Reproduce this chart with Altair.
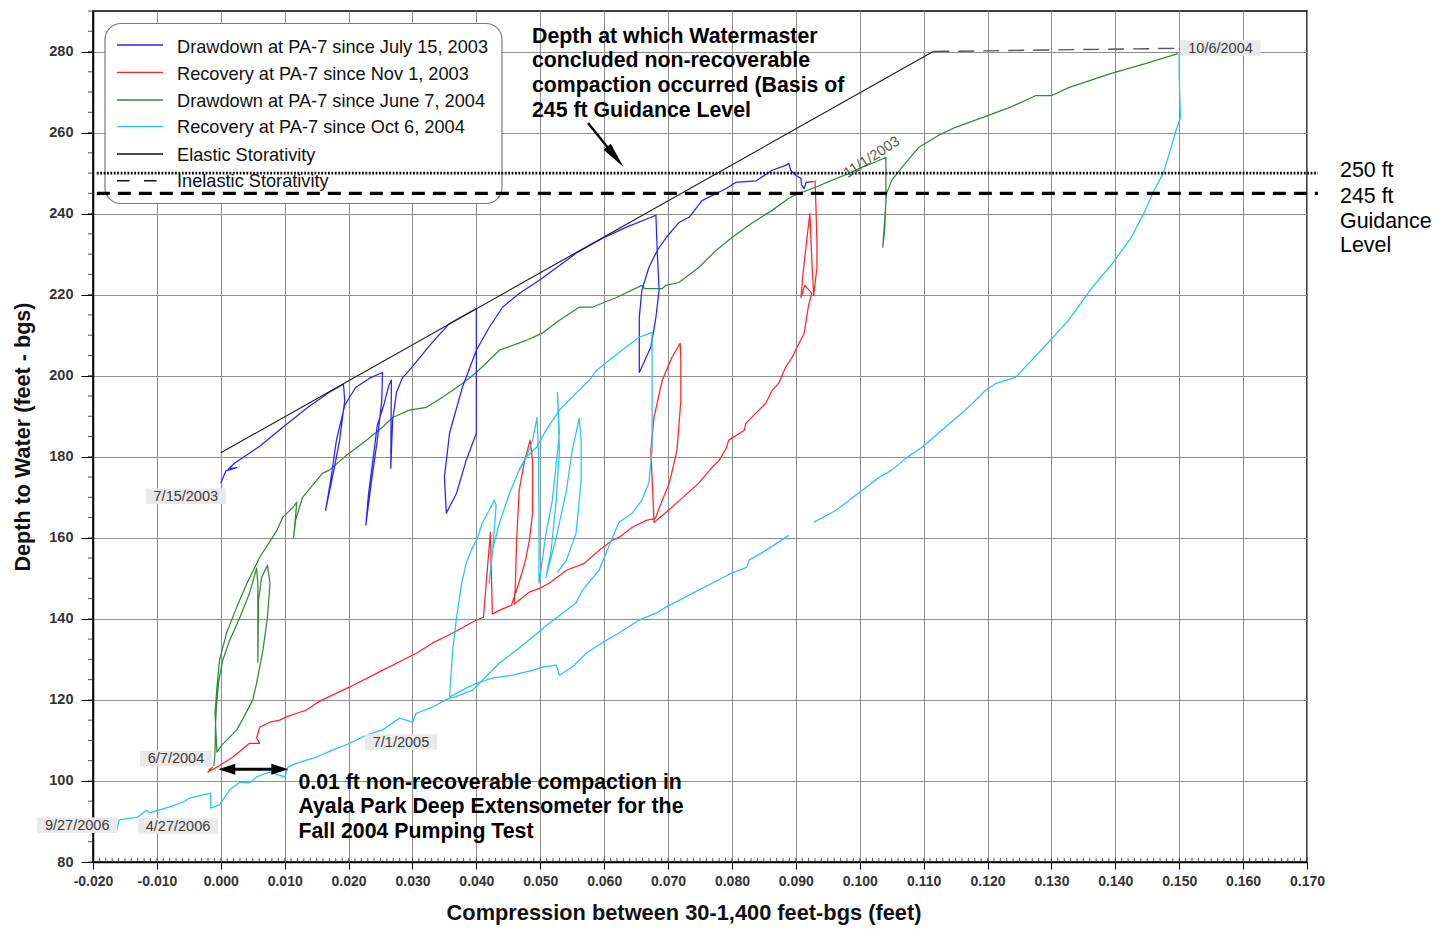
import altair as alt
import pandas as pd

# ---------------------------------------------------------------------------
# Traced records: compression between 30-1,400 ft-bgs (ft) vs depth to water
# ---------------------------------------------------------------------------
SERIES = [
    "Drawdown at PA-7 since July 15, 2003",
    "Recovery at PA-7 since Nov 1, 2003",
    "Drawdown at PA-7 since June 7, 2004",
    "Recovery at PA-7 since Oct 6, 2004",
]
COLORS = ["#2424ff", "#ff2424", "#2f8a35", "#26c3ef"]

BLUE_X = [0.0000, 0.0008, 0.0025, 0.0012, 0.0023, 0.0061, 0.0097, 0.0139, 0.0170, 0.0192,
          0.0194, 0.0186, 0.0177, 0.0164, 0.0172, 0.0181, 0.0194, 0.0211, 0.0233, 0.0253,
          0.0252, 0.0245, 0.0236, 0.0227, 0.0231, 0.0238, 0.0245, 0.0255, 0.0263, 0.0267,
          0.0266, 0.0269, 0.0275, 0.0284, 0.0295, 0.0327, 0.0358, 0.0400, 0.0400, 0.0400,
          0.0384, 0.0369, 0.0353, 0.0350, 0.0358, 0.0378, 0.0400, 0.0420, 0.0441, 0.0467,
          0.0498, 0.0556, 0.0597, 0.0634, 0.0681, 0.0683, 0.0686, 0.0681, 0.0673, 0.0655,
          0.0655, 0.0659, 0.0670, 0.0683, 0.0697, 0.0717, 0.0733, 0.0753, 0.0791, 0.0806,
          0.0838, 0.0863, 0.0884, 0.0889, 0.0892, 0.0900, 0.0908, 0.0909, 0.0913, 0.0916, 0.0928]
BLUE_Y = [173.5, 176.5, 177.3, 177.0, 178.6, 182.6, 187.3, 192.5, 195.9, 197.9,
          193.9, 184.1, 176.7, 166.8, 174.2, 184.1, 192.7, 197.1, 199.4, 200.8,
          193.9, 184.1, 174.2, 163.1, 170.5, 179.1, 187.8, 192.7, 197.6, 198.9,
          177.2, 189.0, 195.9, 199.4, 201.3, 207.5, 212.9, 216.6, 201.3, 185.8,
          179.1, 171.0, 166.1, 174.9, 185.8, 197.1, 206.3, 211.9, 216.9, 220.3,
          223.5, 230.2, 233.9, 236.6, 239.6, 230.9, 221.1, 214.4, 207.0, 200.8,
          214.4, 221.1, 226.7, 230.9, 234.1, 237.8, 239.1, 243.2, 246.2, 247.7,
          248.1, 250.7, 251.9, 252.4, 250.7, 249.4, 248.7, 247.0, 246.2, 247.7, 247.9]

RED_X = [0.0930, 0.0931, 0.0933, 0.0933, 0.0928, 0.0925, 0.0922, 0.0917, 0.0911, 0.0908,
         0.0914, 0.0925, 0.0920, 0.0913, 0.0894, 0.0884, 0.0873, 0.0863, 0.0853, 0.0842,
         0.0822, 0.0819, 0.0795, 0.0791, 0.0780, 0.0769, 0.0748, 0.0722, 0.0697, 0.0678,
         0.0677, 0.0673, 0.0678, 0.0691, 0.0706, 0.0719, 0.0720, 0.0720, 0.0714, 0.0702,
         0.0689, 0.0680, 0.0666, 0.0644, 0.0623, 0.0613, 0.0592, 0.0569, 0.0541, 0.0514,
         0.0500, 0.0483, 0.0459, 0.0461, 0.0463, 0.0467, 0.0475, 0.0484, 0.0488, 0.0488,
         0.0483, 0.0477, 0.0467, 0.0455, 0.0436, 0.0425, 0.0422, 0.0411, 0.0400, 0.0363,
         0.0331, 0.0306, 0.0253, 0.0202, 0.0159, 0.0150, 0.0134, 0.0119, 0.0103, 0.0092,
         0.0077, 0.0061, 0.0056, 0.0061, 0.0045, 0.0019, -0.0006, -0.0020, -0.0013, -0.0019]
RED_Y = [248.2, 244.0, 233.4, 226.7, 219.8, 228.5, 240.0, 233.4, 224.8, 219.3,
         222.3, 220.3, 217.4, 210.5, 204.5, 202.1, 198.1, 196.4, 193.2, 191.5,
         188.3, 186.5, 184.1, 182.1, 179.1, 177.4, 173.5, 169.8, 166.3, 163.8,
         168.0, 181.6, 189.7, 198.9, 204.5, 208.0, 203.8, 193.9, 181.6, 173.5,
         168.5, 164.8, 164.3, 162.6, 160.1, 159.4, 156.9, 153.7, 152.0, 148.8,
         147.6, 146.6, 143.6, 148.3, 159.4, 171.7, 178.6, 184.1, 179.1, 166.1,
         159.4, 154.5, 149.1, 143.4, 142.1, 141.2, 161.4, 140.4, 139.7, 136.5,
         134.0, 131.5, 127.3, 123.2, 120.0, 119.2, 117.5, 116.7, 115.8, 115.0,
         114.5, 113.3, 110.6, 109.3, 109.3, 105.9, 103.4, 102.2, 103.4, 102.7]

GREEN_X = [-0.0011, -0.0009, -0.0008, -0.0006, -0.0003, 0.0003, 0.0014, 0.0030, 0.0045, 0.0056,
           0.0058, 0.0058, 0.0059, 0.0064, 0.0073, 0.0077, 0.0073, 0.0066, 0.0056, 0.0050,
           0.0038, 0.0025, 0.0002, -0.0006, -0.0009, -0.0006, -0.0002, 0.0009, 0.0025, 0.0041,
           0.0061, 0.0088, 0.0097, 0.0113, 0.0119, 0.0114, 0.0117, 0.0128, 0.0159, 0.0170,
           0.0197, 0.0228, 0.0253, 0.0269, 0.0295, 0.0322, 0.0347, 0.0378, 0.0400, 0.0436,
           0.0478, 0.0503, 0.0530, 0.0561, 0.0581, 0.0619, 0.0659, 0.0663, 0.0691, 0.0697,
           0.0717, 0.0748, 0.0775, 0.0800, 0.0831, 0.0863, 0.0889, 0.0905, 0.0931, 0.0956,
           0.0983, 0.1003, 0.1030, 0.1041, 0.1041, 0.1039, 0.1036, 0.1039, 0.1042, 0.1050,
           0.1066, 0.1092, 0.1123, 0.1150, 0.1197, 0.1238, 0.1275, 0.1300, 0.1327, 0.1369,
           0.1394, 0.1447, 0.1498]
GREEN_Y = [103.7, 106.9, 115.0, 120.0, 124.9, 129.8, 134.7, 140.4, 146.3, 152.5,
           148.8, 129.3, 144.6, 150.3, 153.2, 148.8, 140.4, 132.3, 124.1, 120.0,
           116.3, 112.6, 108.9, 107.1, 116.7, 123.2, 129.8, 136.5, 142.9, 148.8,
           155.2, 161.9, 165.1, 167.5, 168.8, 160.1, 164.3, 170.0, 175.9, 176.7,
           180.4, 184.1, 187.3, 189.7, 191.5, 192.2, 194.7, 198.1, 200.8, 206.3,
           208.7, 210.5, 213.7, 216.9, 216.9, 219.3, 222.3, 221.5, 221.5, 222.3,
           223.0, 226.7, 230.9, 234.1, 237.6, 240.8, 243.8, 245.0, 246.5, 248.2,
           249.9, 251.4, 253.1, 253.9, 243.3, 235.9, 231.7, 238.3, 245.0, 248.2,
           251.4, 256.3, 259.3, 261.3, 264.0, 266.4, 269.1, 269.1, 271.1, 273.3,
           274.6, 277.0, 279.5]

# Oct 2004 recovery: upper curve (record gap near 0.091 ft)
CYAN_A_X = [0.1500, 0.1500, 0.1502, 0.1495, 0.1486, 0.1475, 0.1459, 0.1447, 0.1425, 0.1397,
            0.1363, 0.1327, 0.1295, 0.1269, 0.1244, 0.1213, 0.1197, 0.1170, 0.1134, 0.1097,
            0.1072, 0.1050, 0.1030, 0.0998, 0.0963, 0.0928]
CYAN_A_Y = [279.5, 273.6, 263.7, 260.5, 255.6, 250.0, 245.2, 240.8, 234.1, 228.0,
            221.6, 213.7, 208.2, 203.8, 199.6, 198.1, 196.4, 192.2, 187.3, 182.3,
            179.6, 176.7, 174.9, 171.0, 166.8, 163.8]
# lower limb and the 2005 pumping cycles
CYAN_B_X = [0.0889, 0.0853, 0.0827, 0.0823, 0.0800, 0.0769, 0.0738, 0.0697, 0.0681, 0.0655,
            0.0623, 0.0603, 0.0572, 0.0550, 0.0530, 0.0525, 0.0503, 0.0488, 0.0456, 0.0425,
            0.0400, 0.0384, 0.0358,
            0.0363, 0.0369, 0.0377, 0.0384, 0.0392, 0.0402, 0.0409, 0.0420, 0.0428,
            0.0431, 0.0427, 0.0423, 0.0420,
            0.0425, 0.0436, 0.0452, 0.0467, 0.0478, 0.0488, 0.0495,
            0.0497, 0.0498, 0.0498,
            0.0509, 0.0519, 0.0530, 0.0527,
            0.0530, 0.0525, 0.0517, 0.0509,
            0.0525, 0.0541, 0.0550, 0.0561,
            0.0564, 0.0564, 0.0556, 0.0541, 0.0527]
CYAN_B_Y = [160.6, 156.9, 154.5, 152.7, 151.3, 148.8, 146.3, 142.9, 141.4, 139.7,
            136.5, 134.7, 131.5, 128.1, 126.1, 128.6, 128.1, 127.3, 126.1, 125.4,
            124.1, 122.9, 120.7,
            132.3, 140.4, 148.8, 153.7, 156.9, 160.1, 163.6, 166.8, 169.3,
            168.0, 160.1, 152.7, 148.8,
            156.9, 163.6, 171.0, 176.7, 179.9, 184.1, 189.7,
            181.6, 164.3, 148.8,
            161.1, 169.3, 185.8, 195.9,
            181.6, 169.3, 156.9, 150.3,
            160.1, 171.7, 181.6, 189.5,
            184.1, 174.2, 161.1, 154.5, 151.5]
# rise to 0.068 ft, recovery, and the 2005-2006 limb
CYAN_C_X = [0.0467, 0.0478, 0.0494, 0.0509, 0.0530, 0.0556, 0.0577, 0.0588, 0.0608, 0.0634,
            0.0655, 0.0675,
            0.0675, 0.0675, 0.0670, 0.0659, 0.0644, 0.0623, 0.0613, 0.0592, 0.0566, 0.0556,
            0.0514, 0.0488, 0.0463, 0.0436, 0.0394, 0.0366, 0.0358,
            0.0331, 0.0306, 0.0300, 0.0280, 0.0253, 0.0228, 0.0202, 0.0175, 0.0150, 0.0119,
            0.0105, 0.0100, 0.0077, 0.0056, 0.0045, 0.0030, 0.0014, -0.0002, -0.0016, -0.0016,
            -0.0048, -0.0059, -0.0080, -0.0111, -0.0116, -0.0130, -0.0159, -0.0163, -0.0166]
CYAN_C_Y = [176.7, 179.9, 182.3, 186.5, 191.5, 195.7, 198.9, 201.3, 203.8, 207.0,
            209.5, 210.7,
            198.1, 181.6, 173.5, 169.3, 166.1, 163.8, 160.1, 152.0, 147.1, 143.9,
            138.9, 135.5, 132.3, 129.1, 122.4, 120.7, 120.5,
            118.2, 116.7, 114.5, 115.5, 112.6, 111.3, 109.3, 107.6, 105.9, 104.4,
            103.4, 101.0, 102.2, 101.0, 99.5, 99.7, 97.8, 94.1, 93.3, 97.0,
            95.8, 94.8, 93.6, 92.1, 92.8, 91.1, 90.4, 87.9, 89.6]

ELASTIC_X = [0.0000, 0.1115]
ELASTIC_Y = [181.0, 280.0]
INELASTIC_X = [0.1115, 0.1500]
INELASTIC_Y = [280.0, 280.8]

GUIDE_250 = 250
GUIDE_245 = 245

X_TICKS = [-0.020, -0.010, 0.000, 0.010, 0.020, 0.030, 0.040, 0.050, 0.060, 0.070,
           0.080, 0.090, 0.100, 0.110, 0.120, 0.130, 0.140, 0.150, 0.160, 0.170]
Y_TICKS = [80, 100, 120, 140, 160, 180, 200, 220, 240, 260, 280]
X_MINOR = [round(-0.020 + 0.001 * k, 3) for k in range(191)]
Y_MINOR = list(range(80, 291, 5))

# ---------------------------------------------------------------------------
W, H = 1214, 851
FONT = "Liberation Sans"
xs = alt.Scale(domain=[-0.02, 0.17], nice=False, zero=False)
ys = alt.Scale(domain=[80, 290], nice=False, zero=False)

rows = []


def add(series, seg, xv, yv):
    if len(xv) != len(yv):
        raise ValueError(f"{seg}: {len(xv)} x values vs {len(yv)} y values")
    rows.extend({"series": series, "seg": seg, "i": i, "x": a, "y": b}
                for i, (a, b) in enumerate(zip(xv, yv)))


add(SERIES[2], "green", GREEN_X, GREEN_Y)
add(SERIES[0], "blue", BLUE_X, BLUE_Y)
add(SERIES[1], "red", RED_X, RED_Y)
add(SERIES[3], "cyan_a", CYAN_A_X, CYAN_A_Y)
add(SERIES[3], "cyan_b", CYAN_B_X, CYAN_B_Y)
add(SERIES[3], "cyan_c", CYAN_C_X, CYAN_C_Y)

x_axis = alt.Axis(
    values=X_TICKS,
    labelExpr="datum.value < 0 ? '-' + format(-datum.value, '.3f') : format(datum.value, '.3f')",
    grid=True, gridColor="#8e8e8e", gridWidth=1,
    domainColor="black", domainWidth=1.5, tickColor="black", tickSize=7, tickWidth=1,
    labelFont=FONT, labelFontSize=14, labelFontWeight="bold", labelColor="#333",
    labelPadding=5, labelFlush=False, labelOverlap=False,
    title="Compression between 30-1,400 feet-bgs (feet)", titleFont=FONT,
    titleFontSize=21.8, titleFontWeight="bold", titleColor="#111", titlePadding=14,
    titleX=590.5,
)
y_axis = alt.Axis(
    values=Y_TICKS, format="d",
    grid=True, gridColor="#8e8e8e", gridWidth=1,
    domainColor="black", domainWidth=1.5, tickColor="black", tickSize=12, tickWidth=1,
    labelFont=FONT, labelFontSize=14.5, labelFontWeight="bold", labelColor="#333",
    labelPadding=8, labelOverlap=False,
    title="Depth to Water (feet - bgs)", titleFont=FONT, titleFontSize=21.6,
    titleFontWeight="bold", titleColor="#111", titlePadding=14,
)

lines = alt.Chart(pd.DataFrame(rows)).mark_line(strokeWidth=1.25, strokeJoin="round").encode(
    x=alt.X("x:Q", scale=xs, axis=x_axis),
    y=alt.Y("y:Q", scale=ys, axis=y_axis),
    color=alt.Color("series:N", scale=alt.Scale(domain=SERIES, range=COLORS), legend=None),
    detail="seg:N",
    order="i:Q",
)


def xy(df, mark):
    return alt.Chart(df).mark_line(**mark).encode(
        x=alt.X("x:Q", scale=xs), y=alt.Y("y:Q", scale=ys))


elastic = xy(pd.DataFrame({"x": ELASTIC_X, "y": ELASTIC_Y}), dict(color="#1a1a1a", strokeWidth=1.1))
inelastic = xy(pd.DataFrame({"x": INELASTIC_X, "y": INELASTIC_Y}),
               dict(color="#555", strokeWidth=1.4, strokeDash=[16, 9]))

x_minor = alt.Chart(pd.DataFrame({"x": X_MINOR})).mark_rule(color="#222", strokeWidth=0.8).encode(
    x=alt.X("x:Q", scale=xs), y=alt.value(H - 4), y2=alt.value(H))
y_minor = alt.Chart(pd.DataFrame({"y": Y_MINOR})).mark_rule(color="#222", strokeWidth=0.8).encode(
    y=alt.Y("y:Q", scale=ys), x=alt.value(-5), x2=alt.value(0))


def guide(yv, **mark):
    d = pd.DataFrame({"x": [-0.0194], "x2": [0.1717], "y": [yv]})
    return alt.Chart(d).mark_rule(color="black", **mark).encode(
        x=alt.X("x:Q", scale=xs), x2="x2:Q", y=alt.Y("y:Q", scale=ys))


g250 = guide(GUIDE_250, strokeWidth=2.6, strokeDash=[1.8, 1.6])
g245 = guide(GUIDE_245, strokeWidth=3.2, strokeDash=[13, 8])

one = pd.DataFrame({"k": [0]})


def text(t, x, y, **kw):
    style = dict(font=FONT, fontSize=18, color="#111", align="left", baseline="alphabetic")
    style.update(kw)
    return alt.Chart(one).mark_text(text=t, **style).encode(x=alt.value(x), y=alt.value(y))


def rule_px(x, x2, y, y2, **kw):
    return alt.Chart(one).mark_rule(**kw).encode(
        x=alt.value(x), x2=alt.value(x2), y=alt.value(y), y2=alt.value(y2))


def head(x, y, angle, size, shape):
    return alt.Chart(one).mark_point(shape=shape, size=size, filled=True, color="black",
                                     opacity=1, strokeWidth=0, angle=angle).encode(
        x=alt.value(x), y=alt.value(y))


# legend panel
LEG_LABELS = SERIES + ["Elastic Storativity", "Inelastic Storativity"]
LEG_COLORS = COLORS + ["#111", "#111"]
LEG_SYM_Y = [34, 61.3, 89, 115.7, 143, 169.7]
LEG_TXT_Y = [42.3, 69, 95.7, 122.3, 149.7, 175.7]

legend_layers = [
    alt.Chart(one).mark_rect(fill="white", stroke="#7a7a7a", strokeWidth=1.2, cornerRadius=16).encode(
        x=alt.value(12), x2=alt.value(409), y=alt.value(12.5), y2=alt.value(192.5))
]
for lab, col, sy, ty in zip(LEG_LABELS, LEG_COLORS, LEG_SYM_Y, LEG_TXT_Y):
    if lab == "Inelastic Storativity":
        legend_layers.append(rule_px(24, 64, sy, sy, color=col, strokeWidth=1.4, strokeDash=[12.5, 14.5]))
    else:
        legend_layers.append(rule_px(24, 70, sy, sy, color=col, strokeWidth=1.3))
    legend_layers.append(text(lab, 84, ty, fontSize=18.2))

# annotations
NOTE_TOP = ["Depth at which Watermaster", "concluded non-recoverable",
            "compaction occurred (Basis of", "245 ft Guidance Level"]
NOTE_BOTTOM = ["0.01 ft non-recoverable compaction in",
               "Ayala Park Deep Extensometer for the", "Fall 2004 Pumping Test"]
RIGHT_LABELS = ["250 ft", "245 ft", "Guidance", "Level"]

notes = []
for t, y in zip(NOTE_TOP, [32.3, 56.3, 80.7, 105.7]):
    notes.append(text(t, 439, y, fontSize=21.3, fontWeight="bold", color="black"))
for t, y in zip(NOTE_BOTTOM, [778.3, 801.7, 827.3]):
    notes.append(text(t, 205.4, y, fontSize=21.3, fontWeight="bold", color="black"))
for t, y in zip(RIGHT_LABELS, [165.7, 192.3, 217.3, 240.7]):
    notes.append(text(t, 1247, y, fontSize=21.4, color="black"))

HEAD_LONG = "M0,0 L-2,-0.36 L-2,0.36 Z"
HEAD_SHORT = "M0,0 L-2,-0.65 L-2,0.65 Z"
arrows = [
    rule_px(495, 521, 112, 144.3, color="black", strokeWidth=2.4),
    head(530.5, 156, 51, 676, HEAD_LONG),
    rule_px(131, 190, 758.3, 758.3, color="black", strokeWidth=3),
    head(125.3, 758.3, 180, 289, HEAD_SHORT),
    head(195.3, 758.3, 0, 289, HEAD_SHORT),
]

# date tags
DATE_TAGS = [("7/15/2003", 92.8, 490), ("6/7/2004", 83, 752.3), ("9/27/2006", -15.8, 819),
             ("4/27/2006", 85, 819.7), ("7/1/2005", 308, 735.7), ("10/6/2004", 1127.5, 41.7)]
tags = []
for t, x, y in DATE_TAGS:
    w = 9 + 7.9 * len(t)
    tags.append(alt.Chart(one).mark_rect(fill="#e9e9e9").encode(
        x=alt.value(x - w / 2), x2=alt.value(x + w / 2), y=alt.value(y - 12.5), y2=alt.value(y + 3)))
    tags.append(text(t, x, y, fontSize=14.5, color="#3a3a3a", align="center"))
tags.append(alt.Chart(one).mark_text(text="11/1/2003", font=FONT, fontSize=14.5, color="#555",
                                     align="center", baseline="middle", angle=327).encode(
    x=alt.value(779), y=alt.value(146.5)))

chart = alt.layer(
    lines, elastic, inelastic, x_minor, y_minor,
    *legend_layers, g250, g245, *notes, *arrows, *tags,
).properties(
    width=W, height=H,
    padding={"left": 93, "top": 11, "right": 134, "bottom": 67},
    autosize=alt.AutoSizeParams(type="none"),
    background="white",
).configure_view(stroke="black", strokeWidth=1.5)

chart.save("out.html", embed_options={"renderer": "svg", "actions": False})
